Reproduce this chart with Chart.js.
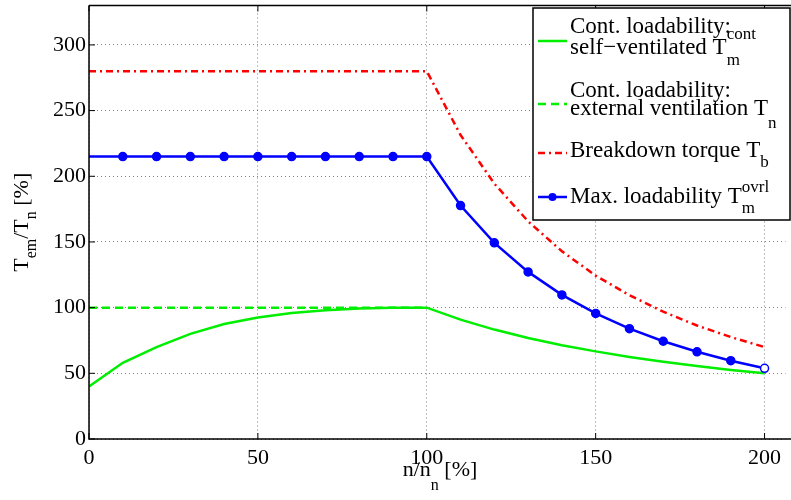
<!DOCTYPE html>
<html>
<head>
<meta charset="utf-8">
<script src="https://cdn.jsdelivr.net/npm/chart.js@4"></script>
<style>
  html, body { margin: 0; padding: 0; background: #fff; }
  canvas { display: block; }
</style>
</head>
<body>
<canvas id="chart" width="791" height="500"></canvas>
<script>
const FONT = '"Liberation Serif", "DejaVu Serif", serif';
const GREEN = '#00ee00', RED = '#ff0000', BLUE = '#0000ff';

// n/n_n [%]
const speed = [0, 10, 20, 30, 40, 50, 60, 70, 80, 90, 100, 110, 120, 130, 140, 150, 160, 170, 180, 190, 200];
// T_em/T_n [%]
const contSelf = [40, 58, 70, 80, 87.5, 92.5, 96, 98, 99.3, 99.9, 100, 90.9, 83.3, 76.9, 71.4, 66.7, 62.5, 58.8, 55.6, 52.6, 50];
const contExt = [100, 100, 100, 100, 100, 100, 100, 100, 100, 100, 100, null, null, null, null, null, null, null, null, null, null];
const breakdown = [280, 280, 280, 280, 280, 280, 280, 280, 280, 280, 280, 231.4, 194.4, 165.7, 142.9, 124.4, 109.4, 96.9, 86.4, 77.6, 70];
const maxLoad = [215, 215, 215, 215, 215, 215, 215, 215, 215, 215, 215, 177.7, 149.3, 127.2, 109.7, 95.6, 84.0, 74.4, 66.4, 59.6, 53.8];

const xTicks = [0, 50, 100, 150, 200];
const yTicks = [0, 50, 100, 150, 200, 250, 300];

const pts = arr => speed.map((s, i) => ({ x: s, y: arr[i] }));

// text with sub/superscripts; part: {t, dy, size, under}
function richWidth(ctx, parts) {
  let w = 0, last = 0;
  for (const p of parts) {
    ctx.font = (p.size || 23) + 'px ' + FONT;
    const pw = ctx.measureText(p.t).width;
    if (p.under) { w = w - last + Math.max(last, pw); last = Math.max(last, pw); }
    else { w += pw; last = pw; }
  }
  return w;
}
function drawRich(ctx, x, y, parts) {
  let cx = x, start = x, lastW = 0;
  for (const p of parts) {
    ctx.font = (p.size || 23) + 'px ' + FONT;
    const pw = ctx.measureText(p.t).width;
    if (p.under) {
      ctx.fillText(p.t, start, y + (p.dy || 0));
      cx = start + Math.max(lastW, pw);
    } else {
      start = cx;
      ctx.fillText(p.t, cx, y + (p.dy || 0));
      cx += pw;
      lastW = pw;
    }
  }
}

const legendItems = [
  { color: GREEN, dash: [], marker: false, sampleY: 41,
    lines: [{ y: 33, parts: [{ t: 'Cont. loadability:' }] },
            { y: 54, parts: [{ t: 'self\u2212ventilated T' }, { t: 'cont', dy: -15, size: 17 }, { t: 'm', dy: 11, size: 17, under: true }] }] },
  { color: GREEN, dash: [8, 5], marker: false, sampleY: 104,
    lines: [{ y: 97, parts: [{ t: 'Cont. loadability:' }] },
            { y: 115, parts: [{ t: 'external ventilation T' }, { t: 'n', dy: 13, size: 17 }] }] },
  { color: RED, dash: [7, 4, 2, 4], marker: false, sampleY: 153,
    lines: [{ y: 157, parts: [{ t: 'Breakdown torque T' }, { t: 'b', dy: 10, size: 17 }] }] },
  { color: BLUE, dash: [], marker: true, sampleY: 197,
    lines: [{ y: 203, parts: [{ t: 'Max. loadability T' }, { t: 'ovrl', dy: -11, size: 17 }, { t: 'm', dy: 10, size: 17, under: true }] }] }
];

const decor = {
  id: 'decor',
  afterDraw(chart) {
    const ctx = chart.ctx, a = chart.chartArea;
    const xs = chart.scales.x, ys = chart.scales.y;
    ctx.save();
    // frame (runs past the right edge, as in the cropped original) and inward ticks
    ctx.strokeStyle = '#000';
    ctx.lineWidth = 1.5;
    ctx.beginPath();
    ctx.moveTo(a.left, a.top); ctx.lineTo(chart.width, a.top);
    ctx.moveTo(a.left, a.top); ctx.lineTo(a.left, a.bottom);
    ctx.lineTo(chart.width, a.bottom);
    ctx.stroke();
    ctx.lineWidth = 1;
    ctx.beginPath();
    xTicks.forEach(v => {
      const px = xs.getPixelForValue(v);
      ctx.moveTo(px, a.bottom); ctx.lineTo(px, a.bottom - 6);
      ctx.moveTo(px, a.top); ctx.lineTo(px, a.top + 6);
    });
    yTicks.forEach(v => {
      const py = ys.getPixelForValue(v);
      ctx.moveTo(a.left, py); ctx.lineTo(a.left + 6, py);
    });
    ctx.stroke();

    // axis titles
    ctx.fillStyle = '#000';
    ctx.textBaseline = 'alphabetic';
    ctx.textAlign = 'left';
    const xt = [{ t: 'n/n', size: 22 }, { t: 'n', dy: 14, size: 16 }, { t: ' [%]', size: 22 }];
    const xw = richWidth(ctx, xt);
    drawRich(ctx, 440 - xw / 2, 476, xt);
    const yt = [{ t: 'T', size: 22 }, { t: 'em', dy: 8, size: 16 }, { t: '/T', size: 22 }, { t: 'n', dy: 8, size: 16 }, { t: ' [%]', size: 22 }];
    const yw = richWidth(ctx, yt);
    ctx.save();
    ctx.translate(28, (a.top + a.bottom) / 2);
    ctx.rotate(-Math.PI / 2);
    drawRich(ctx, -yw / 2, 0, yt);
    ctx.restore();

    // legend box
    const bx = 533, by = 8, bw = 257, bh = 212;
    ctx.fillStyle = '#fff';
    ctx.fillRect(bx, by, bw, bh);
    ctx.strokeStyle = '#000';
    ctx.lineWidth = 1.5;
    ctx.strokeRect(bx, by, bw, bh);
    legendItems.forEach(it => {
      ctx.strokeStyle = it.color;
      ctx.lineWidth = 2.5;
      ctx.setLineDash(it.dash);
      ctx.beginPath();
      ctx.moveTo(538, it.sampleY); ctx.lineTo(567, it.sampleY);
      ctx.stroke();
      ctx.setLineDash([]);
      if (it.marker) {
        ctx.fillStyle = it.color;
        ctx.beginPath();
        ctx.arc(552.5, it.sampleY, 4, 0, Math.PI * 2);
        ctx.fill();
      }
      ctx.fillStyle = '#000';
      it.lines.forEach(l => drawRich(ctx, 570, l.y, l.parts));
    });
    ctx.restore();
  }
};

new Chart(document.getElementById('chart'), {
  type: 'line',
  data: {
    datasets: [
      { label: 'Max. loadability', data: pts(maxLoad), borderColor: BLUE, backgroundColor: BLUE,
        borderWidth: 2.5, pointRadius: speed.map((s, i) => i === 0 ? 0 : 4),
        pointBackgroundColor: speed.map((s, i) => i === speed.length - 1 ? '#fff' : BLUE),
        pointBorderColor: BLUE, pointBorderWidth: 1.5, tension: 0 },
      { label: 'Breakdown torque', data: pts(breakdown), borderColor: RED, borderWidth: 2.5,
        borderDash: [7, 4, 2, 4], pointRadius: 0, tension: 0 },
      { label: 'Cont. loadability: external ventilation', data: pts(contExt), borderColor: GREEN, borderWidth: 2.5,
        borderDash: [8, 5], pointRadius: 0, spanGaps: false },
      { label: 'Cont. loadability: self-ventilated', data: pts(contSelf), borderColor: GREEN, borderWidth: 2.5,
        pointRadius: 0, tension: 0 }
    ]
  },
  options: {
    responsive: false,
    animation: false,
    devicePixelRatio: 1,
    layout: { padding: { top: 3, right: 0, left: 0, bottom: 0 } },
    plugins: { legend: { display: false }, tooltip: { enabled: false } },
    scales: {
      x: {
        type: 'linear', min: 0, max: 206.2,
        afterFit: s => { s.height = 61; s.paddingLeft = 0; s.paddingRight = 0; },
        afterBuildTicks: s => { s.ticks = xTicks.map(v => ({ value: v })); },
        grid: { color: 'rgba(0,0,0,0.5)', drawTicks: false, lineWidth: 1 },
        border: { display: false, dash: [1, 3] },
        ticks: { color: '#000', padding: 6, maxRotation: 0, font: { family: FONT, size: 22 } }
      },
      y: {
        type: 'linear', min: 0, max: 330,
        afterFit: s => { s.width = 89; s.paddingTop = 0; s.paddingBottom = 0; },
        afterBuildTicks: s => { s.ticks = yTicks.map(v => ({ value: v })); },
        grid: { color: 'rgba(0,0,0,0.5)', drawTicks: false, lineWidth: 1 },
        border: { display: false, dash: [1, 3] },
        ticks: { color: '#000', padding: 3, font: { family: FONT, size: 22 } }
      }
    }
  },
  plugins: [decor]
});
</script>
</body>
</html>
